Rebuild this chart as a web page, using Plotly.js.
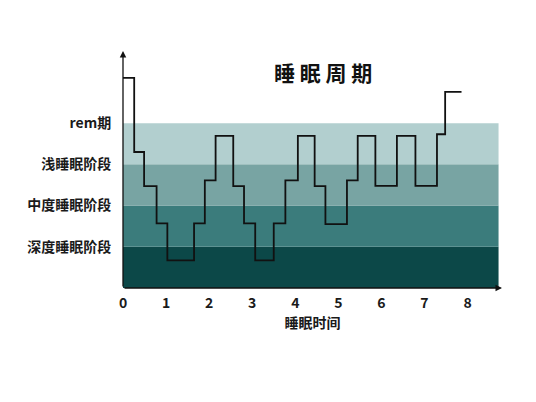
<!DOCTYPE html>
<html>
<head>
<meta charset="utf-8">
<script src="https://cdn.plot.ly/plotly-3.0.1.min.js"></script>
<style>
  html, body { margin: 0; padding: 0; background: #fff; }
  #chart { width: 536px; height: 402px; }
</style>
</head>
<body>
<div id="chart"></div>
<script>
// stage bands, bottom to top
var stageNames = ['深度睡眠阶段', '中度睡眠阶段', '浅睡眠阶段', 'rem期'];
var stageLevels = [1, 2, 3, 4];
var bandColors = ['#0c4848', '#3b7c7c', '#78a4a3', '#b2cfcf'];

// hypnogram steps (hours, stage level)
var stepX = [0, 0.26, 0.49, 0.78, 1.03, 1.65, 1.90, 2.15, 2.56, 2.81, 3.07, 3.50,
             3.77, 4.06, 4.45, 4.70, 5.20, 5.45, 5.86, 6.36, 6.79, 7.29, 7.48, 7.86];
var stepY = [5.1, 3.3, 2.47, 1.57, 0.67, 1.57, 2.61, 3.69, 2.47, 1.57, 0.67, 1.57,
             2.61, 3.69, 2.47, 1.55, 2.61, 3.69, 2.48, 3.69, 2.48, 3.73, 4.76, 4.76];

var hourTicks = [0, 1, 2, 3, 4, 5, 6, 7, 8];

var font = '"Noto Sans CJK SC", "Noto Sans", sans-serif';

var bands = stageLevels.map(function (lvl, i) {
	return {
		type: 'rect', xref: 'x', yref: 'y', layer: 'below',
		x0: 0, x1: 8.72, y0: lvl - 1, y1: lvl,
		fillcolor: bandColors[i], line: { width: 0 }
	};
});

var trace = {
	x: stepX,
	y: stepY,
	type: 'scatter',
	mode: 'lines',
	line: { shape: 'hv', color: '#111', width: 1.8 },
	hoverinfo: 'skip'
};

var layout = {
	width: 536,
	height: 402,
	margin: { l: 123, r: 34, t: 51, b: 114 },
	paper_bgcolor: '#fff',
	plot_bgcolor: '#fff',
	showlegend: false,
	font: { family: font, color: '#1a1a1a' },
	xaxis: {
		range: [0, 8.8],
		tickvals: hourTicks,
		ticks: 'outside', ticklen: 2, tickcolor: 'rgba(0,0,0,0)',
		tickfont: { size: 14, family: font, weight: 'bold' },
		showgrid: false, zeroline: false, showline: false,
		title: { text: '睡眠时间', font: { size: 14, weight: 'bold' }, standoff: 6 }
	},
	yaxis: {
		range: [0, 5.75],
		tickvals: stageLevels,
		ticktext: stageNames,
		ticks: 'outside', ticklen: 8, tickcolor: 'rgba(0,0,0,0)',
		tickfont: { size: 14, family: font, weight: 'bold' },
		showgrid: false, zeroline: false, showline: false
	},
	shapes: bands,
	annotations: [
		{
			text: '睡 眠 周 期', xref: 'paper', yref: 'paper',
			x: 0.528, y: 0.911, xanchor: 'center', yanchor: 'middle', showarrow: false,
			font: { size: 21, weight: 'bold', color: '#111' }
		},
		{
			// y axis arrow
			xref: 'x', yref: 'y', axref: 'x', ayref: 'y',
			x: 0, y: 5.75, ax: 0, ay: 0, text: '',
			showarrow: true, arrowhead: 2, arrowsize: 1, arrowwidth: 1.3, arrowcolor: '#111'
		},
		{
			// x axis arrow
			xref: 'x', yref: 'y', axref: 'x', ayref: 'y',
			x: 8.8, y: 0, ax: 0, ay: 0, text: '',
			showarrow: true, arrowhead: 2, arrowsize: 1, arrowwidth: 1.3, arrowcolor: '#111'
		}
	]
};

Plotly.newPlot('chart', [trace], layout, { staticPlot: true, displayModeBar: false });
</script>
</body>
</html>
